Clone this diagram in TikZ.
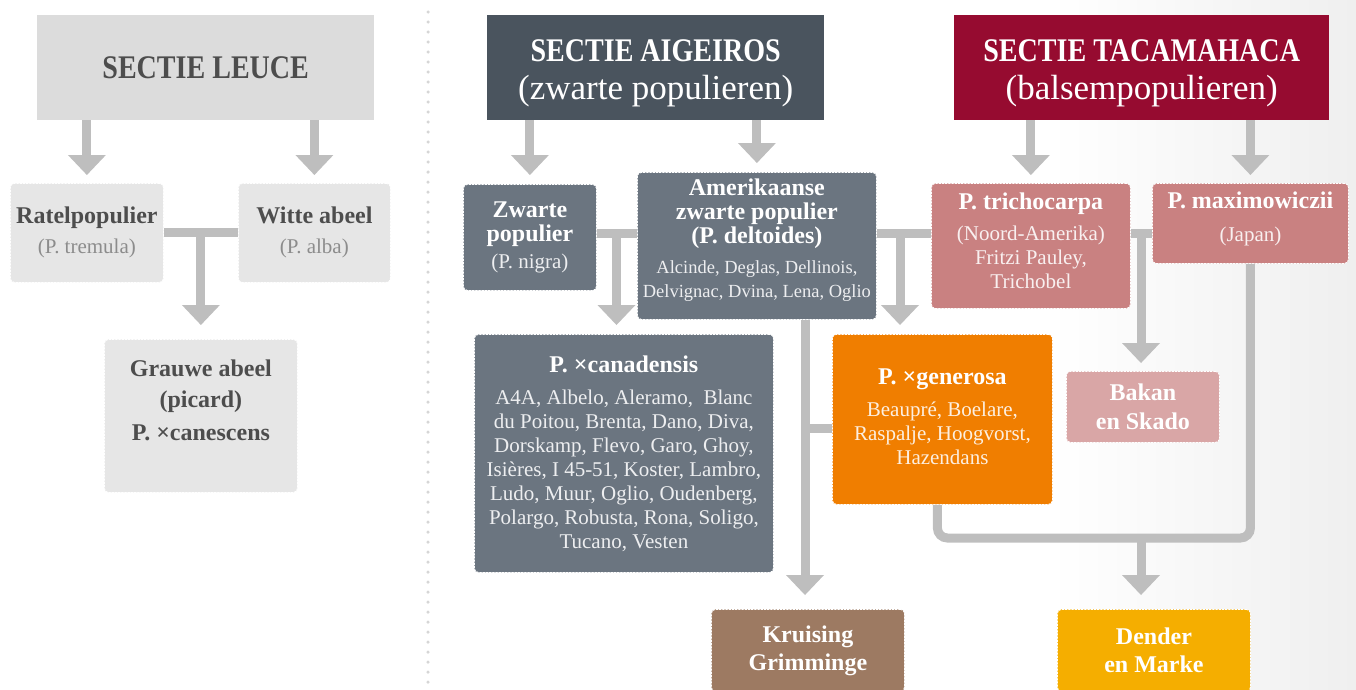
\documentclass[tikz,border=0pt]{standalone}
\usepackage{fontspec}
\setmainfont{Liberation Serif}
\newfontfamily\kopfont[FakeStretch=0.85]{Liberation Serif}
\usetikzlibrary{arrows.meta,positioning}

\definecolor{lijngrijs}{HTML}{BEBEBE}
\definecolor{puntgrijs}{HTML}{D6D6D6}
\definecolor{leucegrijs}{HTML}{DCDCDC}
\definecolor{lichtgrijs}{HTML}{E6E6E6}
\definecolor{donkertekst}{HTML}{4D4D4D}
\definecolor{subgrijs}{HTML}{8C8C8C}
\definecolor{leisteen}{HTML}{4A545E}
\definecolor{leisteenlicht}{HTML}{6B7580}
\definecolor{bordeaux}{HTML}{960B30}
\definecolor{roze}{HTML}{C98181}
\definecolor{rozelicht}{HTML}{D9A6A6}
\definecolor{oranje}{HTML}{F07E00}
\definecolor{bruin}{HTML}{9D7A62}
\definecolor{geel}{HTML}{F5AE00}
\definecolor{achtergrond}{HTML}{EFEFEF}
\colorlet{subkleur}{white}

\newcommand{\kop}{\kopfont\fontsize{33}{38}\selectfont\bfseries}
\newcommand{\kopsub}{\fontsize{35}{38}\selectfont\mdseries}
\newcommand{\naam}{\fontsize{24}{24}\selectfont\bfseries}
\newcommand{\klein}{\fontsize{21}{24}\selectfont\mdseries\color{subkleur}}
\newcommand{\kleiner}{\fontsize{18.5}{24}\selectfont\mdseries\color{subkleur}}

\tikzset{
  sectie/.style={anchor=north west, inner sep=0pt, align=center, text=white,
    font=\fontsize{31}{38}\selectfont},
  soort/.style={anchor=north west, inner sep=0pt, align=center, text=white,
    rounded corners=4pt, draw=white, dash pattern=on 2pt off 1.2pt,
    line width=0.8pt, font=\naam},
  maat/.style 2 args={minimum width=#1pt, minimum height=#2pt},
  licht/.style={soort, fill=lichtgrijs, text=donkertekst,
    execute at begin node=\colorlet{subkleur}{subgrijs}},
  leivak/.style={soort, fill=leisteenlicht,
    execute at begin node=\colorlet{subkleur}{white!88!leisteenlicht}},
  rozevak/.style={soort, fill=#1,
    execute at begin node=\colorlet{subkleur}{white!88!#1}},
  pijl/.style={draw=lijngrijs, line width=9pt,
    -{Triangle[width=38pt,length=20pt,line width'=0pt]}},
  balk/.style={draw=lijngrijs, line width=9pt},
  scheiding/.style={draw=puntgrijs, line width=3.5pt, line cap=round,
    dash pattern=on 0pt off 10pt}
}

\begin{document}
\begin{tikzpicture}[x=1pt, y=-1pt]
  \useasboundingbox (0,0) rectangle (1356,689);
  \shade[left color=white, right color=achtergrond] (1050,0) rectangle (1356,689);
  \draw[scheiding] (428,12) -- (428,689);

  % sectie Leuce
  \node[sectie, maat={337}{105}, fill=leucegrijs, text=donkertekst] (leuce) at (37,15) {\kop SECTIE LEUCE};
  \node[licht, maat={153}{99}] (ratel) at (10,183) {Ratelpopulier\\[6pt]{\klein (P. tremula)}};
  \node[licht, maat={152}{99}] (witte) at (238,183) {Witte abeel\\[6pt]{\klein (P. alba)}};
  \node[licht, maat={193}{153}] (grauwe) at (104,339) {Grauwe abeel\\[7pt](picard)\\[9pt]P.~×canescens\\[8pt]\mbox{}};

  % sectie Aigeiros
  \node[sectie, maat={337}{105}, fill=leisteen] (aigeiros) at (487,15) {{\kop\rule{0pt}{34pt}SECTIE AIGEIROS}\\{\kopsub (zwarte populieren)}};
  \node[leivak, maat={133}{106}] (nigra) at (463,184) {Zwarte\\populier\\[3pt]{\klein (P. nigra)}};
  \node[leivak, maat={239}{147}] (deltoides) at (637,172) {Amerikaanse\\zwarte populier\\(P.~deltoides)\\[6pt]{\kleiner Alcinde, Deglas, Dellinois,}\\{\kleiner Delvignac, Dvina, Lena, Oglio}\\[-8pt]\mbox{}};
  \node[leivak, maat={299}{238}] (canadensis) at (474,334) {P.~×canadensis\\[8pt]{\klein A4A, Albelo, Aleramo,~~Blanc}\\{\klein du Poitou, Brenta, Dano, Diva,}\\{\klein Dorskamp, Flevo, Garo, Ghoy,}\\{\klein Isières, I 45-51, Koster, Lambro,}\\{\klein Ludo, Muur, Oglio, Oudenberg,}\\{\klein Polargo, Robusta, Rona, Soligo,}\\{\klein Tucano, Vesten}};

  % sectie Tacamahaca
  \node[sectie, maat={375}{105}, fill=bordeaux] (tacamahaca) at (954,15) {{\kop\rule{0pt}{34pt}SECTIE TACAMAHACA}\\{\kopsub (balsempopulieren)}};
  \node[rozevak=roze, maat={199}{125}] (tricho) at (931,183) {P.~trichocarpa\\[7pt]{\klein (Noord-Amerika)}\\{\klein Fritzi Pauley,}\\{\klein Trichobel}\\[-14pt]\mbox{}};
  \node[rozevak=roze, maat={196}{80}] (maximo) at (1152,183) {P.~maximowiczii\\[9pt]{\klein (Japan)}\\[-10pt]\mbox{}};

  % kruisingen
  \node[rozevak=oranje, maat={220}{170}] (generosa) at (832,334) {P.~×generosa\\[8pt]{\klein Beaupré, Boelare,}\\{\klein Raspalje, Hoogvorst,}\\{\klein Hazendans}\\[-18pt]\mbox{}};
  \node[rozevak=rozelicht, maat={153}{71}] (bakan) at (1066,371) {Bakan\\[5pt]en Skado};
  \node[rozevak=bruin, maat={193}{82}] (kruising) at (711,609) {Kruising\\[4pt]Grimminge};
  \node[rozevak=geel, maat={193}{82}] (dender) at (1057,609) {Dender\\[4pt]en Marke};

  % pijlen
  \coordinate (nd) at (616.5,233);
  \coordinate (dt) at (900,233);
  \coordinate (tm) at (1141,233);
  \coordinate (gk) at (805,428);
  \coordinate (gm) at (1141,538);

  \draw[pijl, shorten >=8pt] (leuce.south -| ratel) -- (ratel.north);
  \draw[pijl, shorten >=8pt] (leuce.south -| witte) -- (witte.north);
  \draw[balk] (ratel.east) -- (witte.west);
  \draw[pijl, shorten >=14pt] (grauwe.north |- ratel.east) -- (grauwe.north);

  \draw[pijl, shorten >=9pt] (aigeiros.south -| nigra) -- (nigra.north);
  \draw[pijl, shorten >=9pt] (aigeiros.south -| deltoides) -- (deltoides.north);
  \draw[balk] (nigra.east |- nd) -- (deltoides.west |- nd);
  \draw[pijl, shorten >=9pt] (nd) -- (nd |- canadensis.north);
  \draw[balk] (deltoides.east |- dt) -- (tricho.west |- dt);
  \draw[pijl, shorten >=9pt] (dt) -- (dt |- generosa.north);
  \draw[pijl, shorten >=14pt] (deltoides.south -| gk) -- (kruising.north -| gk);
  \draw[balk] (generosa.west |- gk) -- (gk);

  \draw[pijl, shorten >=8pt] (tacamahaca.south -| tricho) -- (tricho.north);
  \draw[pijl, shorten >=8pt] (tacamahaca.south -| maximo) -- (maximo.north);
  \draw[balk] (tricho.east |- tm) -- (maximo.west |- tm);
  \draw[pijl, shorten >=8pt] (tm) -- (tm |- bakan.north);
  \draw[balk, rounded corners=10pt] ([xshift=-5pt]generosa.south) |- (maximo.south |- gm) -- (maximo.south);
  \draw[pijl, shorten >=14pt] (gm) -- (gm |- dender.north);
\end{tikzpicture}
\end{document}
